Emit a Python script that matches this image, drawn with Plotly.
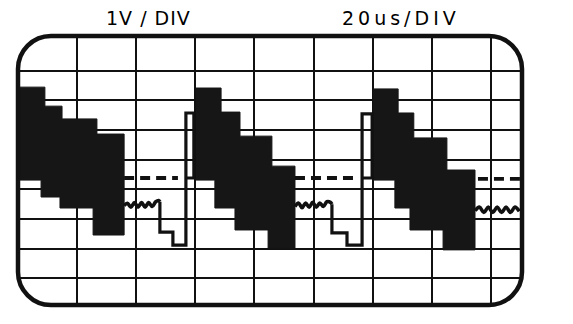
import plotly.graph_objects as go

# ---- graticule (20 us/div horizontally, 1 V/div vertically) ----
x_ticks = [20, 40, 60, 80, 100, 120, 140, 160]          # us
y_ticks = [-3, -2, -1, 0, 1, 2, 3, 4]                   # V
x_range = [0.0, 170.5]
y_range = [-3.896, 5.162]

# ---- dark "band" blocks (trace switching fast between two staircases) ----
block_top_x = [[0.0, 9.1, 14.9, 26.7, 35.9],
               [60.2, 68.7, 75.1, 85.9, 93.7],
               [120.1, 128.6, 133.9, 145.1, 154.6]]
block_top_y = [[3.44, 2.80, 2.37, 1.86],
               [3.41, 2.60, 1.79, 0.78],
               [3.38, 2.57, 1.73, 0.65]]
block_bot_x = [[0.0, 7.8, 14.2, 25.4, 35.9],
               [60.2, 66.6, 73.4, 84.6, 93.7],
               [120.1, 127.5, 132.6, 143.8, 154.6]]
block_bot_y = [[0.31, -0.26, -0.63, -1.54],
               [0.31, -0.63, -1.37, -1.98],
               [0.31, -0.63, -1.37, -2.04]]

# ---- dashed level after each block ----
level_x0 = [35.9, 93.7, 155.6]
level_x1 = [54.1, 115.0, 169.8]
level_y = [0.38, 0.38, 0.35]

# ---- ripple segments ----
ripple1_x = [35.9, 37.0, 38.2, 39.4, 40.6, 41.8, 43.0, 44.2, 45.4, 46.6, 47.6, 48.0]
ripple1_y = [-0.55, -0.47, -0.60, -0.45, -0.60, -0.45, -0.60, -0.45, -0.58, -0.42, -0.38, -0.42]
ripple2_x = [93.7, 94.9, 96.1, 97.3, 98.5, 99.7, 100.9, 102.1, 103.3, 104.5, 105.7, 106.2]
ripple2_y = [-0.58, -0.46, -0.62, -0.46, -0.60, -0.44, -0.60, -0.46, -0.58, -0.42, -0.44, -0.50]
ripple3_x = [154.6, 156.1, 157.6, 159.1, 160.6, 162.1, 163.6, 165.1, 166.6, 168.1, 169.6]
ripple3_y = [-0.72, -0.60, -0.78, -0.60, -0.78, -0.60, -0.78, -0.60, -0.78, -0.60, -0.74]

# ---- step-down and retrace pulse between blocks ----
retrace1_x = [48.0, 48.0, 52.4, 52.4, 56.8, 56.8, 59.5, 59.5, 56.8]
retrace1_y = [-0.42, -1.44, -1.44, -1.88, -1.88, 2.57, 2.57, 0.38, 0.38]
retrace2_x = [106.2, 106.2, 111.3, 111.3, 116.4, 116.4, 119.8, 119.8, 116.4]
retrace2_y = [-0.50, -1.47, -1.47, -1.88, -1.88, 2.54, 2.54, 0.38, 0.38]

title_left = "1V / DIV"
title_right = "20us/DIV"

INK = "#111111"
fig = go.Figure()

for tx, ty, bx, by in zip(block_top_x, block_top_y, block_bot_x, block_bot_y):
    xs, ys = [], []
    for i in range(len(ty)):
        xs += [tx[i], tx[i + 1]]
        ys += [ty[i], ty[i]]
    for i in reversed(range(len(by))):
        xs += [bx[i + 1], bx[i]]
        ys += [by[i], by[i]]
    fig.add_trace(go.Scatter(x=xs, y=ys, mode="lines", fill="toself",
                             fillcolor="#161616", line=dict(width=1, color="#161616"),
                             hoverinfo="skip", showlegend=False))

for x0, x1, yv in zip(level_x0, level_x1, level_y):
    fig.add_trace(go.Scatter(x=[x0, x1], y=[yv, yv], mode="lines",
                             line=dict(color=INK, width=3.8, dash="10px,6px"),
                             hoverinfo="skip", showlegend=False))

for rx, ry in [(ripple1_x, ripple1_y), (ripple2_x, ripple2_y), (ripple3_x, ripple3_y)]:
    fig.add_trace(go.Scatter(x=rx, y=ry, mode="lines",
                             line=dict(color=INK, width=3.6, shape="spline"),
                             hoverinfo="skip", showlegend=False))

for rx, ry in [(retrace1_x, retrace1_y), (retrace2_x, retrace2_y)]:
    fig.add_trace(go.Scatter(x=rx, y=ry, mode="lines",
                             line=dict(color=INK, width=3.2),
                             hoverinfo="skip", showlegend=False))

# rounded screen bezel in paper coordinates (cubic Bezier corners)
W_PX, H_PX = 504.0, 269.0
R_PX = 33.0
rx_, ry_ = R_PX / W_PX, R_PX / H_PX
k = 0.5523
path = (f"M {rx_},1 L {1-rx_},1 "
        f"C {1-rx_+k*rx_},1 1,{1-ry_+k*ry_} 1,{1-ry_} "
        f"L 1,{ry_} "
        f"C 1,{ry_-k*ry_} {1-rx_+k*rx_},0 {1-rx_},0 "
        f"L {rx_},0 "
        f"C {rx_-k*rx_},0 0,{ry_-k*ry_} 0,{ry_} "
        f"L 0,{1-ry_} "
        f"C 0,{1-ry_+k*ry_} {rx_-k*rx_},1 {rx_},1 Z")
fig.add_shape(type="path", path=path, xref="paper", yref="paper",
              line=dict(color=INK, width=4.5), layer="above")

fig.add_annotation(text=f'<span style="letter-spacing:1px">{title_left}</span>',
                   xref="paper", yref="paper", x=(104 - 18) / W_PX, y=(305 - 17.5) / H_PX,
                   xanchor="left", yanchor="middle", showarrow=False,
                   font=dict(family="DejaVu Sans", size=19, color="#000000"))
fig.add_annotation(text=f'<span style="letter-spacing:4px">{title_right}</span>',
                   xref="paper", yref="paper", x=(340 - 18) / W_PX, y=(305 - 17.5) / H_PX,
                   xanchor="left", yanchor="middle", showarrow=False,
                   font=dict(family="DejaVu Sans", size=19, color="#000000"))

axis_common = dict(showticklabels=False, ticks="", showline=False, zeroline=False,
                   showgrid=True, gridcolor=INK, gridwidth=2.3, fixedrange=True)
fig.update_xaxes(range=x_range, tickvals=x_ticks, **axis_common)
fig.update_yaxes(range=y_range, tickvals=y_ticks, **axis_common)

fig.update_layout(width=573, height=324,
                  margin=dict(l=18, r=51, t=36, b=19),
                  paper_bgcolor="white", plot_bgcolor="white",
                  showlegend=False)

fig.write_html("out.html")
